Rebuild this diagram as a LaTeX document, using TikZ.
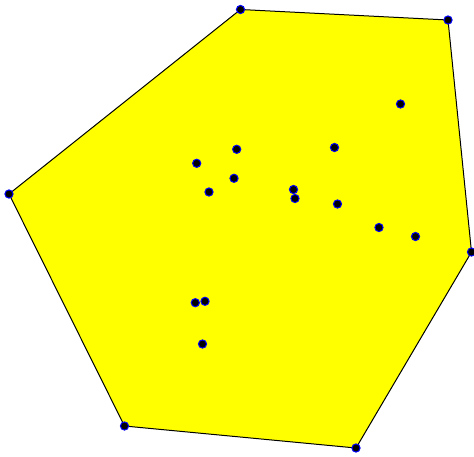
\documentclass[tikz,border=0pt]{standalone}
\definecolor{hullyellow}{RGB}{255,255,0}
\definecolor{dotblue}{RGB}{0,0,255}
\begin{document}
\begin{tikzpicture}[x=1pt,y=-1pt,
  pt/.style={circle,fill=black,draw=dotblue,line width=1pt,inner sep=0pt,minimum size=8.2pt},
  hull/.style={fill=hullyellow,draw=black,line width=1pt}]
\useasboundingbox (0,0) rectangle (474,456);
\coordinate (h1) at (240.5,9.5);
\coordinate (h2) at (448,20);
\coordinate (h3) at (471.5,252);
\coordinate (h4) at (356,448);
\coordinate (h5) at (124.5,426);
\coordinate (h6) at (9,194);
\filldraw[hull] (h1) -- (h2) -- (h3) -- (h4) -- (h5) -- (h6) -- cycle;
\foreach \n in {h1,h2,h3,h4,h5,h6} \node[pt] at (\n) {};
\node[pt] (p1) at (400.5,104) {};
\node[pt] (p2) at (196.7,163.3) {};
\node[pt] (p3) at (236.7,149.3) {};
\node[pt] (p4) at (334.5,147.5) {};
\node[pt] (p5) at (209,192) {};
\node[pt] (p6) at (234,178.3) {};
\node[pt] (p7) at (293.5,189.5) {};
\node[pt] (p8) at (295,198.5) {};
\node[pt] (p9) at (337.5,204) {};
\node[pt] (p10) at (379,227.5) {};
\node[pt] (p11) at (415.5,236.5) {};
\node[pt] (p12) at (195.3,302.7) {};
\node[pt] (p13) at (205,301.3) {};
\node[pt] (p14) at (202.5,344) {};
\end{tikzpicture}
\end{document}
